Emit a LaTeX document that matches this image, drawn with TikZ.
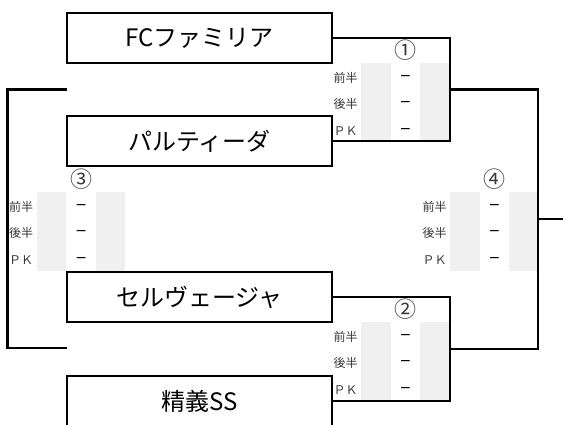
\documentclass[tikz,border=0pt]{standalone}
\usepackage{fontspec}
\setmainfont{Noto Sans CJK JP}
\newfontfamily\symfont{DejaVu Sans}
\definecolor{colGray}{HTML}{F0F0F0}
\definecolor{colLbl}{HTML}{383838}
\newcommand\ScoreTable[4]{%
  \node[graycol] (#4a) at (#1,#2) {};
  \node[graycol] (#4b) at (#1+59,#2) {};
  \node[num] (#4n) at (#1+44.5,#2-12.5) {#3};
  \node[lbl] (#4l1) at (#1-15.5,#2+15) {前半};
  \node[lbl] (#4l2) at (#1-15.5,#2+41.5) {後半};
  \node[lbl] (#4l3) at (#1-15.5,#2+68) {ＰＫ};
  \node[scoredash] (#4d1) at (#1+44.5,#2+15) {};
  \node[scoredash] (#4d2) at (#1+44.5,#2+41.5) {};
  \node[scoredash] (#4d3) at (#1+44.5,#2+68) {};
}
\begin{document}
\begin{tikzpicture}[x=1pt,y=-1pt,
  team/.style={draw, line width=2pt, minimum width=265pt, minimum height=50pt, inner sep=0pt, font=\fontsize{24}{24}\selectfont},
  wire/.style={line width=2.4pt},
  graycol/.style={fill=colGray, minimum width=29.5pt, minimum height=79pt, inner sep=0pt, anchor=north west},
  lbl/.style={font=\fontsize{12}{12}\selectfont, text=colLbl, inner sep=0pt},
  scoredash/.style={inner sep=0pt, execute at begin node={\symfont\fontsize{14}{14}\selectfont −}},
  num/.style={inner sep=0pt, text=colLbl, font=\fontsize{22}{22}\selectfont}]
\useasboundingbox (0,0) rectangle (563,424);
\fill[white] (0,0) rectangle (563,424);

\ScoreTable{361}{62.7}{①}{t1}
\ScoreTable{361}{321.7}{②}{t2}
\ScoreTable{36.7}{191.7}{③}{t3}
\ScoreTable{450}{191.7}{④}{t4}

\node[team] (b1) at (199.5,38) {FCファミリア};
\node[team] (b2) at (199.5,141) {パルティーダ};
\node[team] (b3) at (199.5,297) {セルヴェージャ};
\node[team] (b4) at (199.5,401) {精義SS};

\coordinate (j1) at (450,89.5);
\coordinate (j2) at (450,349);
\coordinate (j4) at (538,219);
\coordinate (out) at (566,219);
\coordinate (l1) at (67,89.5);
\coordinate (l2) at (67,348);
\coordinate (j3) at (7.5,219);

\draw[wire] (b1.east) -| (j1) |- (b2.east);
\draw[wire] (b3.east) -| (j2) |- (b4.east);
\draw[wire] (j1) -| (j4) |- (j2);
\draw[wire] (j4) -- (out);
\draw[wire] (l1) -| (j3) |- (l2);
\end{tikzpicture}
\end{document}
